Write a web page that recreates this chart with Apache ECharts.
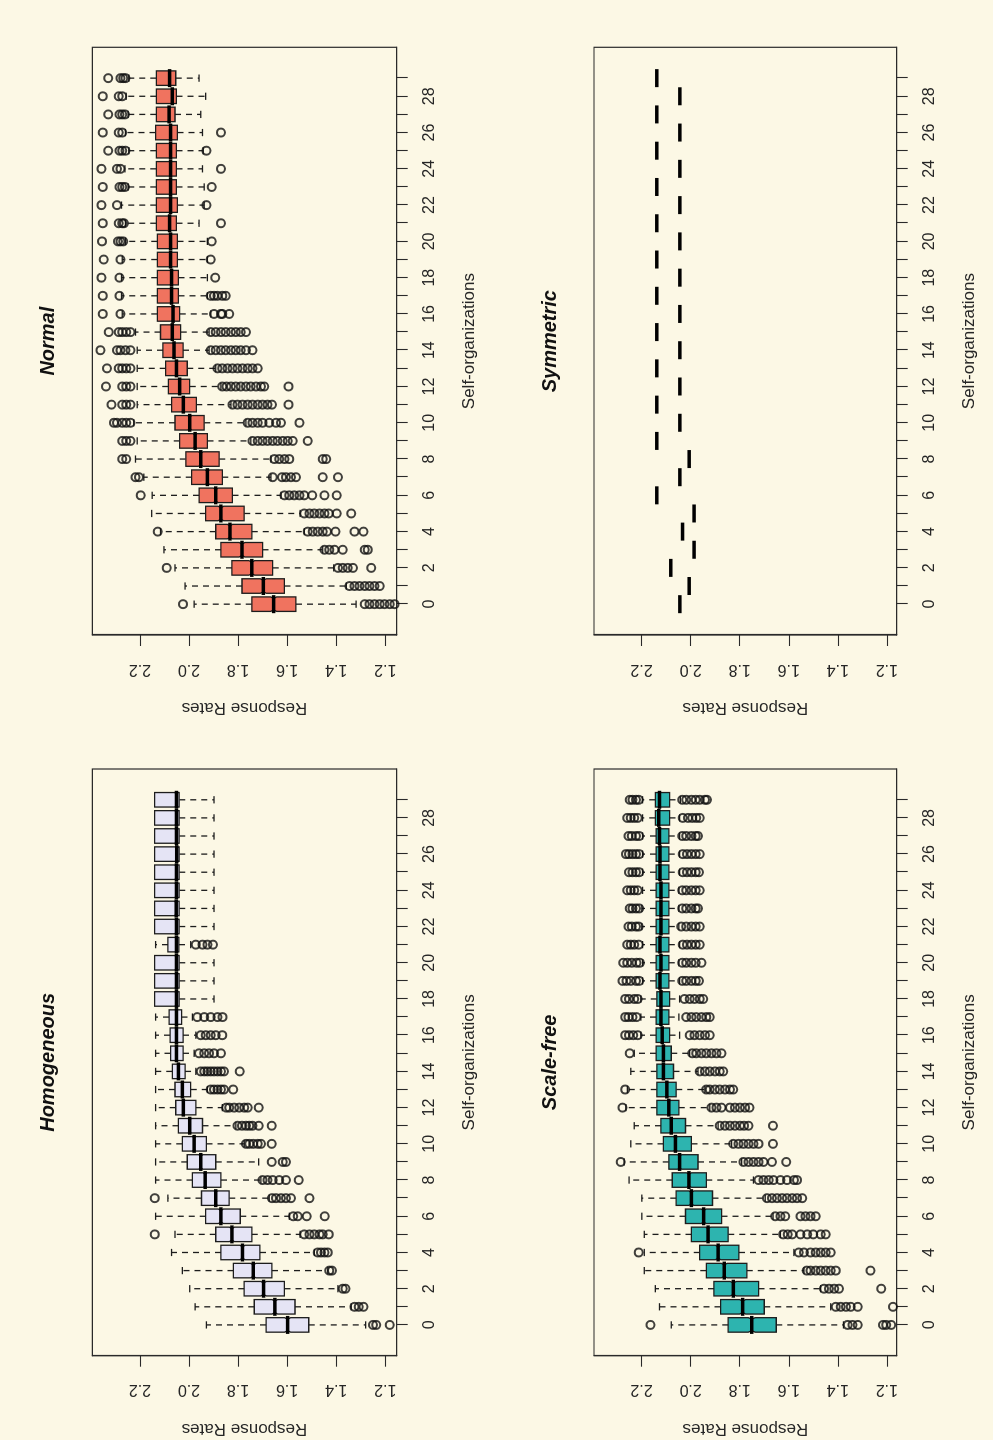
<!DOCTYPE html>
<html>
<head>
<meta charset="utf-8">
<title>Response Rates by Self-organizations</title>
<script src="https://cdn.jsdelivr.net/npm/echarts@6/dist/echarts.min.js"></script>
<style>
  html, body { margin: 0; padding: 0; width: 993px; height: 1440px; overflow: hidden; background: #FCF8E5; }
  /* the figure is laid out in landscape and turned a quarter turn counter-clockwise */
  #chart { position: absolute; left: 0; top: 0; width: 1440px; height: 993px;
           transform-origin: 0 0; transform: translate(0, 1440px) rotate(-90deg); }
</style>
</head>
<body>
<div id="chart"></div>
<script>
// ---- data -------------------------------------------------------------
const selfOrganizations = [0,1,2,3,4,5,6,7,8,9,10,11,12,13,14,15,16,17,18,19,20,21,22,23,24,25,26,27,28,29];
const positionTicks = [0,1,2,3,4,5,6,7,8,9,10,11,12,13,14,15,16,17,18,19,20,21,22,23,24,25,26,27,28,29];
const positionLabels = [0,2,4,6,8,10,12,14,16,18,20,22,24,26,28];
const rateTicks = [1.2, 1.4, 1.6, 1.8, 2.0, 2.2];
const panelTitles = ['Homogeneous', 'Normal', 'Scale-free', 'Symmetric'];

// five-number summaries per self-organization: [lower whisker, Q1, median, Q3, upper whisker]
const homogeneousStats = [
  [1.280,1.512,1.598,1.686,1.929],[1.339,1.568,1.650,1.734,1.975],[1.393,1.611,1.696,1.775,1.997],
  [1.434,1.662,1.738,1.819,2.027],[1.489,1.711,1.782,1.870,2.071],[1.547,1.744,1.825,1.891,2.057],
  [1.591,1.791,1.870,1.932,2.136],[1.673,1.836,1.891,1.949,2.086],[1.707,1.870,1.934,1.986,2.136],
  [1.716,1.891,1.952,2.007,2.136],[1.775,1.929,1.979,2.027,2.136],[1.809,1.945,1.997,2.043,2.136],
  [1.864,1.972,2.023,2.054,2.136],[1.925,1.993,2.027,2.057,2.136],[1.972,2.016,2.043,2.068,2.136],
  [1.979,2.024,2.051,2.075,2.136],[1.972,2.024,2.051,2.077,2.136],[1.986,2.030,2.051,2.081,2.136],
  [1.898,2.040,2.051,2.140,2.140],[1.898,2.040,2.051,2.140,2.140],[1.898,2.040,2.051,2.140,2.140],
  [1.993,2.041,2.051,2.086,2.136],[1.898,2.040,2.051,2.140,2.140],[1.898,2.040,2.052,2.140,2.140],
  [1.898,2.040,2.051,2.140,2.140],[1.898,2.040,2.051,2.140,2.140],[1.898,2.040,2.050,2.140,2.140],
  [1.898,2.040,2.051,2.140,2.140],[1.898,2.040,2.051,2.140,2.140],[1.898,2.040,2.051,2.140,2.140]
];
const homogeneousOutliers = [
  [1.250,1.237,1.182],[1.325,1.308,1.289],[1.373,1.362],[1.428,1.417],[1.475,1.462,1.448,1.434],
  [2.139,1.530,1.509,1.489,1.468,1.455,1.430],[1.575,1.557,1.520,1.447],
  [2.139,1.662,1.645,1.625,1.605,1.584,1.509],[1.700,1.680,1.659,1.632,1.605,1.553],[1.663,1.618,1.605],
  [1.768,1.754,1.738,1.720,1.707,1.663],[1.802,1.784,1.768,1.754,1.741,1.716,1.663],
  [1.848,1.836,1.816,1.795,1.775,1.761,1.716],[1.911,1.898,1.884,1.870,1.857,1.820],
  [1.952,1.938,1.925,1.911,1.898,1.884,1.870,1.857,1.793],[1.959,1.938,1.918,1.898,1.870],
  [1.952,1.932,1.911,1.891,1.864],[1.966,1.938,1.911,1.884,1.863],[],[],[],
  [1.972,1.945,1.925,1.902],[],[],[],[],[],[],[],[]
];

const normalStats = [
  [1.319,1.564,1.655,1.744,1.979],[1.359,1.611,1.697,1.784,2.016],[1.410,1.659,1.744,1.825,2.057],
  [1.455,1.700,1.784,1.870,2.102],[1.530,1.744,1.833,1.891,2.116],[1.547,1.775,1.870,1.932,2.152],
  [1.625,1.823,1.891,1.959,2.150],[1.666,1.864,1.925,1.989,2.184],[1.666,1.877,1.952,2.013,2.218],
  [1.748,1.925,1.975,2.038,2.211],[1.768,1.938,1.997,2.057,2.225],[1.829,1.970,2.023,2.071,2.211],
  [1.870,1.997,2.038,2.084,2.211],[1.891,2.007,2.051,2.095,2.211],[1.918,2.024,2.061,2.106,2.211],
  [1.918,2.034,2.068,2.116,2.218],[1.911,2.038,2.065,2.129,2.272],[1.925,2.043,2.071,2.129,2.275],
  [1.925,2.043,2.071,2.129,2.275],[1.925,2.047,2.075,2.129,2.272],[1.925,2.047,2.075,2.129,2.259],
  [1.959,2.051,2.079,2.133,2.259],[1.938,2.047,2.075,2.133,2.275],[1.938,2.051,2.075,2.133,2.248],
  [1.945,2.051,2.075,2.133,2.261],[1.942,2.051,2.075,2.133,2.245],[1.945,2.047,2.075,2.136,2.259],
  [1.952,2.057,2.081,2.133,2.248],[1.932,2.051,2.068,2.133,2.256],[1.959,2.054,2.079,2.133,2.245]
];
const normalOutliers = [
  [2.024,1.284,1.264,1.244,1.223,1.203,1.182,1.162],
  [1.346,1.325,1.305,1.284,1.264,1.244,1.223],
  [2.091,1.393,1.373,1.353,1.332,1.257],
  [1.448,1.428,1.407,1.373,1.284,1.271],
  [2.127,1.516,1.496,1.475,1.455,1.438,1.403,1.325,1.289],
  [1.530,1.509,1.489,1.468,1.448,1.430,1.398,1.339],
  [2.197,1.611,1.591,1.571,1.550,1.530,1.498,1.448,1.398],
  [2.218,2.204,1.659,1.621,1.605,1.584,1.564,1.455,1.393],
  [2.272,2.256,1.652,1.632,1.611,1.591,1.455,1.441],
  [2.272,2.256,2.238,1.741,1.720,1.700,1.680,1.659,1.639,1.618,1.598,1.577,1.516],
  [2.306,2.293,2.272,2.256,2.238,1.761,1.741,1.720,1.700,1.673,1.645,1.625,1.550],
  [2.316,2.272,2.256,2.238,1.823,1.802,1.782,1.761,1.741,1.720,1.700,1.680,1.662,1.594],
  [2.338,2.272,2.256,2.238,1.864,1.847,1.829,1.809,1.789,1.768,1.748,1.727,1.707,1.693,1.594],
  [2.334,2.286,2.272,2.256,2.238,1.884,1.864,1.843,1.823,1.802,1.782,1.761,1.741,1.720],
  [2.361,2.293,2.279,2.259,2.238,1.911,1.891,1.870,1.850,1.829,1.809,1.789,1.768,1.741],
  [2.327,2.286,2.272,2.256,2.238,1.911,1.891,1.870,1.850,1.829,1.809,1.789,1.768],
  [2.351,2.279,1.898,1.870,1.864,1.836],
  [2.351,2.283,1.911,1.898,1.884,1.864,1.850],
  [2.357,2.283,1.893],
  [2.347,2.279,1.911],
  [2.354,2.289,2.279,2.268,1.907],
  [2.351,2.286,2.272,2.265,1.870],
  [2.357,2.293,1.929],
  [2.351,2.283,2.272,2.261,1.907],
  [2.357,2.293,2.279,1.870],
  [2.329,2.283,2.272,2.259,1.929],
  [2.351,2.286,2.272,1.870],
  [2.329,2.283,2.272,2.261],
  [2.351,2.286,2.272],
  [2.329,2.279,2.268,2.259]
];

const scaleFreeStats = [
  [1.377,1.651,1.751,1.847,2.079],[1.429,1.700,1.788,1.878,2.127],[1.470,1.723,1.826,1.905,2.144],
  [1.538,1.771,1.863,1.936,2.189],[1.579,1.803,1.888,1.963,2.189],[1.634,1.847,1.929,1.997,2.189],
  [1.664,1.874,1.947,2.021,2.199],[1.696,1.911,1.997,2.059,2.199],[1.744,1.936,2.007,2.075,2.251],
  [1.792,1.970,2.045,2.089,2.271],[1.833,1.997,2.062,2.111,2.244],[1.888,2.021,2.079,2.121,2.230],
  [1.922,2.048,2.089,2.138,2.264],[1.942,2.059,2.097,2.138,2.258],[1.970,2.070,2.111,2.138,2.244],
  [2.004,2.079,2.111,2.141,2.230],[2.045,2.086,2.116,2.141,2.203],[2.048,2.089,2.121,2.141,2.203],
  [2.045,2.086,2.121,2.138,2.203],[2.045,2.089,2.125,2.141,2.196],[2.048,2.089,2.121,2.141,2.196],
  [2.045,2.089,2.125,2.141,2.196],[2.048,2.089,2.121,2.141,2.199],[2.048,2.089,2.121,2.141,2.199],
  [2.048,2.089,2.121,2.141,2.196],[2.045,2.089,2.125,2.141,2.196],[2.045,2.089,2.125,2.141,2.196],
  [2.045,2.089,2.127,2.141,2.196],[2.045,2.086,2.130,2.144,2.196],[2.042,2.086,2.127,2.144,2.196]
];
const scaleFreeOutliers = [
  [2.164,1.360,1.340,1.319,1.216,1.203,1.182],
  [1.408,1.388,1.367,1.347,1.319,1.175],
  [1.456,1.436,1.415,1.395,1.223],
  [1.527,1.511,1.490,1.470,1.449,1.429,1.408,1.267],
  [2.212,1.559,1.538,1.511,1.490,1.470,1.449,1.429],
  [1.623,1.604,1.586,1.552,1.525,1.500,1.470,1.449],
  [1.655,1.634,1.614,1.552,1.532,1.511,1.490],
  [1.689,1.668,1.648,1.627,1.607,1.586,1.566,1.545],
  [1.723,1.703,1.682,1.662,1.634,1.607,1.579,1.566],
  [2.285,1.785,1.764,1.744,1.723,1.703,1.668,1.610],
  [1.826,1.805,1.785,1.764,1.744,1.723,1.664],
  [1.881,1.860,1.840,1.819,1.799,1.782,1.764,1.664],
  [2.278,1.915,1.895,1.874,1.840,1.819,1.799,1.778,1.760],
  [2.267,1.936,1.922,1.901,1.881,1.860,1.840,1.826],
  [1.963,1.942,1.922,1.901,1.881,1.867],
  [2.248,1.993,1.977,1.956,1.936,1.915,1.895,1.874],
  [2.267,2.251,2.234,2.216,2.004,1.984,1.963,1.942,1.922],
  [2.267,2.253,2.237,2.221,2.018,1.997,1.977,1.956,1.936,1.922],
  [2.267,2.251,2.230,2.216,2.025,2.004,1.984,1.963,1.949],
  [2.278,2.262,2.244,2.223,2.210,2.034,2.018,1.997,1.979,1.966],
  [2.275,2.258,2.240,2.221,2.207,2.034,2.018,1.997,1.979,1.956],
  [2.258,2.244,2.230,2.212,2.032,2.015,1.997,1.979,1.963],
  [2.253,2.240,2.223,2.212,2.038,2.018,1.997,1.979,1.963],
  [2.248,2.237,2.223,2.210,2.034,2.018,1.997,1.979,1.970],
  [2.258,2.244,2.230,2.216,2.034,2.018,1.997,1.979,1.963],
  [2.251,2.237,2.223,2.210,2.032,2.015,1.997,1.979,1.966],
  [2.264,2.251,2.237,2.223,2.210,2.032,2.015,1.997,1.979,1.963],
  [2.253,2.240,2.223,2.210,2.034,2.018,1.997,1.979,1.970],
  [2.258,2.244,2.230,2.216,2.032,2.011,1.993,1.977,1.963],
  [2.248,2.237,2.223,2.212,2.034,2.018,1.997,1.979,1.963,1.942,1.933]
];

// every run in the symmetric network ends on the same rate, so each box collapses to its median
const symmetricMedians = [
  2.044,2.006,2.081,1.986,2.033,1.986,2.138,2.044,2.006,2.138,
  2.044,2.138,2.044,2.138,2.044,2.138,2.044,2.138,2.044,2.138,
  2.044,2.138,2.044,2.138,2.044,2.138,2.044,2.138,2.044,2.138
];
const symmetricStats = symmetricMedians.map(m => [m, m, m, m, m]);
const symmetricOutliers = symmetricMedians.map(() => []);

// ---- layout & style ---------------------------------------------------
const FONT = '"Liberation Sans", Arial, Helvetica, sans-serif';
const INK = '#1d1d1d';
const panelStats = [homogeneousStats, normalStats, scaleFreeStats, symmetricStats];
const panelOutliers = [homogeneousOutliers, normalOutliers, scaleFreeOutliers, symmetricOutliers];
const panelFills = ['#E5E4F5', '#F0735F', '#2DB4AF', 'rgba(0,0,0,0)'];
const gridBoxes = [
  { left: 84.3, top: 92.3, width: 586.7, height: 304.4 },
  { left: 805,  top: 92.3, width: 587.7, height: 304.4 },
  { left: 84.3, top: 594,  width: 586.7, height: 302.7 },
  { left: 805,  top: 594,  width: 587.7, height: 302.7 }
];
const rateRanges = [[1.1535, 2.394], [1.1535, 2.394], [1.160, 2.394], [1.160, 2.394]];

const BOX_HALF = 0.4;      // half of the box width, in axis units
const STAPLE_HALF = 0.2;   // half of the whisker cap
const NOTCH_N = 500;       // runs per self-organization used for the notch size
const NOTCH_NARROW = 0.8;  // box half-width left at the median notch

function boxRenderer(fill) {
  return function (params, api) {
    const x = api.value(0);
    const lo = api.value(1), q1 = api.value(2), med = api.value(3), q3 = api.value(4), hi = api.value(5);
    const c = (px, v) => api.coord([px, v]);
    const seg = (a, b, style) => ({ type: 'line', shape: { x1: a[0], y1: a[1], x2: b[0], y2: b[1] }, style });
    const dashed = { stroke: INK, lineWidth: 1.3, lineDash: [6, 5] };
    const solid = { stroke: INK, lineWidth: 1.3 };
    const notch = 1.58 * (q3 - q1) / Math.sqrt(NOTCH_N);
    const nw = BOX_HALF * NOTCH_NARROW;
    const kids = [];
    if (hi > q3) kids.push(seg(c(x, q3), c(x, hi), dashed));
    if (lo < q1) kids.push(seg(c(x, q1), c(x, lo), dashed));
    kids.push(seg(c(x - STAPLE_HALF, hi), c(x + STAPLE_HALF, hi), solid));
    kids.push(seg(c(x - STAPLE_HALF, lo), c(x + STAPLE_HALF, lo), solid));
    const pts = [
      c(x - BOX_HALF, q1), c(x + BOX_HALF, q1), c(x + BOX_HALF, med - notch), c(x + nw, med),
      c(x + BOX_HALF, med + notch), c(x + BOX_HALF, q3), c(x - BOX_HALF, q3),
      c(x - BOX_HALF, med + notch), c(x - nw, med), c(x - BOX_HALF, med - notch)
    ];
    kids.push({ type: 'polygon', shape: { points: pts }, style: { fill: fill, stroke: INK, lineWidth: 1.3 } });
    kids.push(seg(c(x - BOX_HALF, med), c(x + BOX_HALF, med), { stroke: '#000', lineWidth: 3.5, lineCap: 'square' }));
    return { type: 'group', children: kids };
  };
}

const boxData = stats => stats.map((s, i) => [selfOrganizations[i]].concat(s));
const outlierData = outs => {
  const d = [];
  outs.forEach((list, i) => list.forEach(v => d.push([selfOrganizations[i], v])));
  return d;
};

const grids = [], xAxes = [], yAxes = [], series = [], titles = [];
gridBoxes.forEach((g, i) => {
  grids.push(Object.assign({ show: true, borderColor: '#2a2a2a', borderWidth: 1.2, backgroundColor: 'transparent' }, g));
  xAxes.push({
    gridIndex: i, type: 'value', min: -1.7, max: 30.7,
    axisLine: { show: true, onZero: false, lineStyle: { color: '#2a2a2a', width: 1.2 } },
    splitLine: { show: false },
    axisTick: { show: true, customValues: positionTicks, length: 11, lineStyle: { color: '#2a2a2a', width: 1.1 } },
    axisLabel: { customValues: positionLabels, margin: 25, fontSize: 16, color: '#262626', fontFamily: FONT,
                 formatter: v => String(Math.round(v)) },
    name: 'Self-organizations', nameLocation: 'middle', nameGap: 64,
    nameTextStyle: { fontSize: 17, color: '#262626', fontFamily: FONT }
  });
  yAxes.push({
    gridIndex: i, type: 'value', min: rateRanges[i][0], max: rateRanges[i][1],
    axisLine: { show: true, onZero: false, lineStyle: { color: '#2a2a2a', width: 1.2 } },
    splitLine: { show: false },
    axisTick: { show: true, customValues: rateTicks, length: 11, lineStyle: { color: '#2a2a2a', width: 1.1 } },
    axisLabel: { customValues: rateTicks, rotate: 90, margin: 26, fontSize: 16, color: '#262626', fontFamily: FONT,
                 formatter: v => v.toFixed(1) },
    name: 'Response Rates', nameLocation: 'middle', nameGap: 64,
    nameTextStyle: { fontSize: 17, color: '#262626', fontFamily: FONT }
  });
  series.push({
    type: 'custom', name: panelTitles[i], xAxisIndex: i, yAxisIndex: i,
    renderItem: boxRenderer(panelFills[i]), data: boxData(panelStats[i]),
    encode: { x: 0, y: [1, 2, 3, 4, 5] }, z: 2, silent: true
  });
  series.push({
    type: 'scatter', name: panelTitles[i] + ' outliers', xAxisIndex: i, yAxisIndex: i,
    data: outlierData(panelOutliers[i]), symbol: 'circle', symbolSize: 8,
    itemStyle: { color: 'rgba(0,0,0,0)', borderColor: '#111', borderWidth: 2 }, z: 3, silent: true
  });
  titles.push({
    type: 'text', x: g.left + g.width / 2, y: g.top - 44,
    style: { text: panelTitles[i], font: 'italic bold 20px ' + FONT, fill: '#111',
             align: 'center', verticalAlign: 'middle', textAlign: 'center', textVerticalAlign: 'middle' }
  });
});

const chart = echarts.init(document.getElementById('chart'), null, { width: 1440, height: 993, renderer: 'canvas' });
chart.setOption({
  backgroundColor: '#FCF8E5',
  animation: false,
  grid: grids,
  xAxis: xAxes,
  yAxis: yAxes,
  series: series,
  graphic: titles
});
</script>
</body>
</html>
